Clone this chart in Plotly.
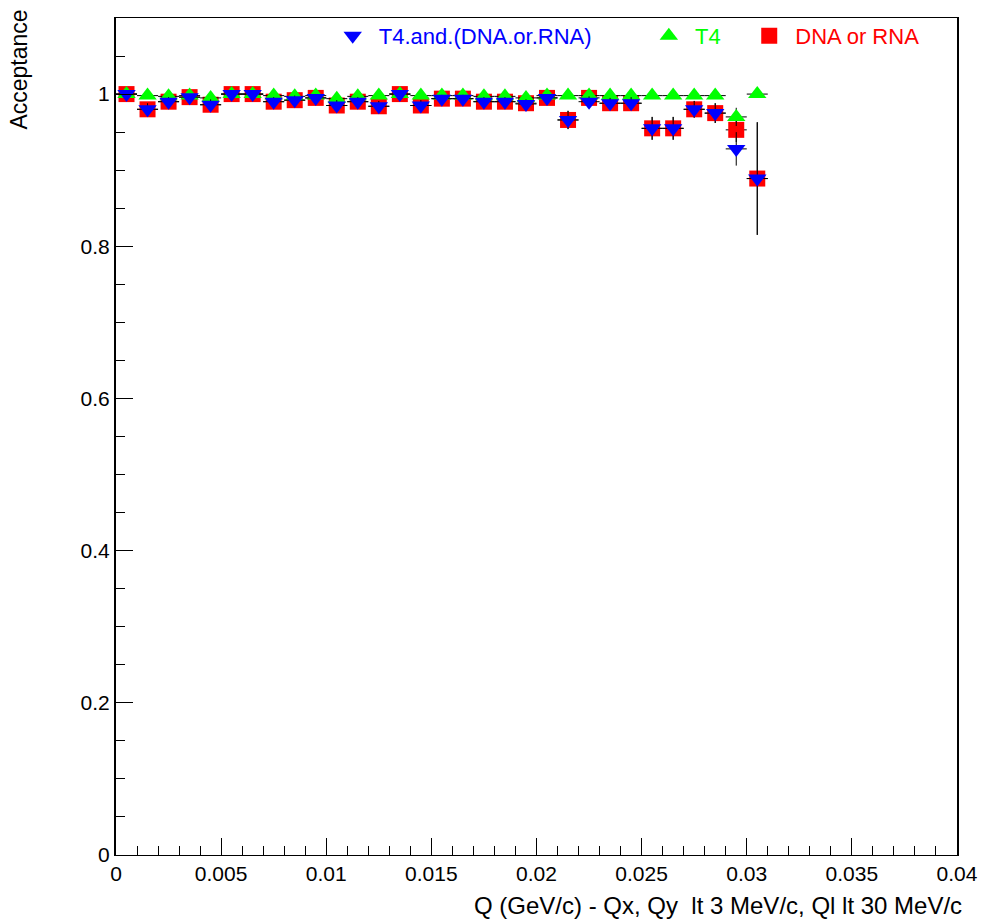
import plotly.graph_objects as go

# Bin centres (GeV/c)
q = [0.0005 + 0.001 * i for i in range(31)]
bin_half_width = [0.0005] * 31

# T4.and.(DNA.or.RNA)
acc_and = [1.000, 0.980, 0.990, 0.996, 0.986, 1.000, 1.000, 0.990, 0.992, 0.995,
           0.985, 0.990, 0.984, 1.000, 0.985, 0.994, 0.994, 0.990, 0.990, 0.987,
           0.995, 0.966, 0.990, 0.988, 0.988, 0.955, 0.955, 0.980, 0.975, 0.928,
           0.889]
err_and = [0.002, 0.008, 0.006, 0.004, 0.007, 0.002, 0.002, 0.006, 0.006, 0.005,
           0.007, 0.006, 0.007, 0.002, 0.007, 0.005, 0.005, 0.006, 0.006, 0.006,
           0.005, 0.012, 0.007, 0.007, 0.008, 0.015, 0.015, 0.011, 0.013, 0.022,
           0.074]

# T4
acc_t4 = [1.000, 0.998, 0.997, 0.998, 0.995, 1.000, 1.000, 0.998, 0.997, 0.998,
          0.994, 0.997, 0.998, 1.000, 0.998, 0.998, 0.998, 0.997, 0.997, 0.995,
          0.998, 0.998, 0.998, 0.998, 0.998, 0.998, 0.998, 0.998, 0.998, 0.970,
          1.000]
err_t4 = [0.001, 0.002, 0.002, 0.002, 0.003, 0.001, 0.001, 0.002, 0.002, 0.002,
          0.003, 0.002, 0.002, 0.001, 0.002, 0.002, 0.002, 0.002, 0.002, 0.003,
          0.002, 0.002, 0.002, 0.002, 0.002, 0.002, 0.002, 0.002, 0.002, 0.012,
          0.001]

# DNA or RNA
acc_dna = [1.000, 0.980, 0.990, 0.996, 0.986, 1.000, 1.000, 0.990, 0.992, 0.995,
           0.985, 0.990, 0.984, 1.000, 0.985, 0.994, 0.994, 0.990, 0.990, 0.988,
           0.995, 0.966, 0.995, 0.988, 0.988, 0.955, 0.955, 0.980, 0.975, 0.953,
           0.889]
err_dna = [0.002, 0.008, 0.006, 0.004, 0.007, 0.002, 0.002, 0.006, 0.006, 0.005,
           0.007, 0.006, 0.007, 0.002, 0.007, 0.005, 0.005, 0.006, 0.006, 0.006,
           0.005, 0.012, 0.005, 0.007, 0.008, 0.015, 0.015, 0.011, 0.013, 0.016,
           0.074]

x_ticks = [0, 0.005, 0.01, 0.015, 0.02, 0.025, 0.03, 0.035, 0.04]
x_tick_text = ["0", "0.005", "0.01", "0.015", "0.02", "0.025", "0.03", "0.035", "0.04"]
y_ticks = [0, 0.2, 0.4, 0.6, 0.8, 1.0]
y_tick_text = ["0", "0.2", "0.4", "0.6", "0.8", "1"]

FONT = "Liberation Sans, Arial, Helvetica, sans-serif"


def err_style(vals):
    return dict(type="data", array=vals, color="black", thickness=1, width=0)


fig = go.Figure()
fig.add_trace(go.Scatter(
    x=q, y=acc_dna, mode="markers", name="\u00a0DNA or RNA",
    marker=dict(symbol="square", size=16, color="#ff0000"),
    error_x=err_style(bin_half_width), error_y=err_style(err_dna),
    legend="legend3"))
fig.add_trace(go.Scatter(
    x=q, y=acc_t4, mode="markers", name="\u00a0T4",
    marker=dict(symbol="triangle-up", size=16, color="#00ff00"),
    error_x=err_style(bin_half_width), error_y=err_style(err_t4),
    legend="legend2"))
fig.add_trace(go.Scatter(
    x=q, y=acc_and, mode="markers", name="\u00a0T4.and.(DNA.or.RNA)",
    marker=dict(symbol="triangle-down", size=16, color="#0000ff"),
    error_x=err_style(bin_half_width), error_y=err_style(err_and),
    legend="legend"))

L, R, T, B = 116, 28, 18, 67
W, H = 990, 922
pw, ph = W - L - R, H - T - B


def px_x(p):
    return (p - L) / pw


def px_y(p):
    return (H - B - p) / ph


leg_common = dict(orientation="h", bgcolor="rgba(0,0,0,0)", borderwidth=0,
                  yanchor="middle", y=px_y(36), xanchor="left")
fig.update_layout(
    width=W, height=H,
    margin=dict(l=L, r=R, t=T, b=B),
    paper_bgcolor="white", plot_bgcolor="white",
    font=dict(family=FONT, size=21, color="black"),
    showlegend=True,
    legend=dict(**leg_common, x=px_x(334), font=dict(family=FONT, size=22, color="#0000ff")),
    legend2=dict(**leg_common, x=px_x(652), font=dict(family=FONT, size=22, color="#00ff00")),
    legend3=dict(**leg_common, x=px_x(753), font=dict(family=FONT, size=22, color="#ff0000")),
    xaxis=dict(
        range=[0, 0.04], tickmode="array", tickvals=x_ticks, ticktext=x_tick_text,
        ticks="inside", ticklen=17, tickwidth=1, tickcolor="black",
        minor=dict(dtick=0.001, tick0=0, ticks="inside", ticklen=9, tickcolor="black", showgrid=False),
        showline=True, linecolor="black", linewidth=1, mirror=True,
        showgrid=False, zeroline=False,
        tickfont=dict(family=FONT, size=21),
    ),
    yaxis=dict(
        range=[0, 1.1], tickmode="array", tickvals=y_ticks, ticktext=y_tick_text,
        ticks="inside", ticklen=17, tickwidth=1, tickcolor="black",
        minor=dict(dtick=0.05, tick0=0, ticks="inside", ticklen=9, tickcolor="black", showgrid=False),
        showline=True, linecolor="black", linewidth=2, mirror=True,
        showgrid=False, zeroline=False,
        tickfont=dict(family=FONT, size=21),
    ),
    annotations=[
        dict(text="Acceptance", xref="paper", yref="paper", x=px_x(18), y=px_y(8),
             xanchor="center", yanchor="top", textangle=-90, showarrow=False,
             font=dict(family=FONT, size=23, color="black")),
        dict(text="Q (GeV/c) - Qx, Qy  lt 3 MeV/c, Ql lt 30 MeV/c", xref="paper", yref="paper",
             x=px_x(969), y=px_y(905), xanchor="right", yanchor="middle", showarrow=False,
             font=dict(family=FONT, size=24, color="black")),
    ],
)

fig.write_html("out.html")
